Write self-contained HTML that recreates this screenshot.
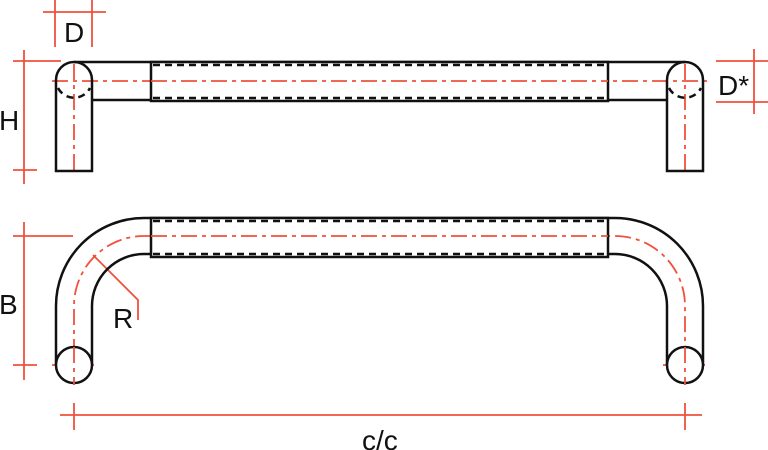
<!DOCTYPE html>
<html><head><style>body{margin:0;background:#fff}svg{display:block}text{font-family:"Liberation Sans",sans-serif;font-size:28px;fill:#111}</style></head><body>
<svg width="768" height="450" viewBox="0 0 768 450">
<g stroke="#f0503c" stroke-width="1.8" fill="none">
<line x1="55" y1="0" x2="55" y2="47"/><line x1="92" y1="0" x2="92" y2="47"/><line x1="43" y1="12" x2="106" y2="12"/>
<line x1="24" y1="50" x2="24" y2="184"/><line x1="13" y1="61" x2="61" y2="61"/><line x1="13" y1="170" x2="37" y2="170"/>
<line x1="716" y1="61" x2="768" y2="61"/><line x1="716" y1="102" x2="768" y2="102"/><line x1="754" y1="49" x2="754" y2="114"/>
<line x1="24" y1="222" x2="24" y2="380"/><line x1="13" y1="236" x2="73" y2="236"/><line x1="13" y1="365" x2="37" y2="365"/>
<polyline points="93,255 138,300 138,320"/>
<line x1="60" y1="415" x2="702" y2="415"/><line x1="74" y1="403" x2="74" y2="430"/><line x1="685" y1="403" x2="685" y2="430"/>
</g>
<g stroke="#f0503c" stroke-width="1.8" fill="none" stroke-dasharray="16,5,4,5">
<line x1="52" y1="81" x2="708" y2="81"/>
<line x1="74" y1="64" x2="74" y2="172"/><line x1="685" y1="64" x2="685" y2="172"/>
<path d="M74 385 V306 A70 70 0 0 1 144 236 H615 A70 70 0 0 1 685 306 V385"/>
</g>
<g stroke="#f0503c" stroke-width="1.8" stroke-dasharray="6,3">
<line x1="52" y1="365" x2="96" y2="365"/><line x1="663" y1="365" x2="707" y2="365"/>
</g>
<g stroke="#111" stroke-width="2.5" fill="none">
<path d="M56 171 V80 A18 18 0 0 1 92 80 V171 Z"/>
<path d="M667 171 V80 A18 18 0 0 1 703 80 V171 Z"/>
<line x1="74" y1="62" x2="685" y2="62"/>
<line x1="92" y1="100" x2="667" y2="100"/>
<rect x="151" y="62" width="457" height="39" fill="#fff"/>
<path d="M56 365 V306 A88 88 0 0 1 144 218 H615 A88 88 0 0 1 703 306 V365"/>
<path d="M92 365 V306 A52 52 0 0 1 144 254 H615 A52 52 0 0 1 667 306 V365"/>
<rect x="151" y="218" width="457" height="39" fill="#fff"/>
<circle cx="74" cy="365" r="18" fill="#fff"/>
<circle cx="685" cy="365" r="18" fill="#fff"/>
</g>
<g stroke="#111" stroke-width="2.5" fill="none" stroke-dasharray="7,5">
<line x1="153" y1="65" x2="606" y2="65"/><line x1="153" y1="98" x2="606" y2="98"/>
<line x1="153" y1="221" x2="606" y2="221"/><line x1="153" y1="254" x2="606" y2="254"/>
<path d="M58 88 A18 18 0 0 0 90 88"/><path d="M669 88 A18 18 0 0 0 701 88"/>
</g>
<g stroke="#f0503c" stroke-width="1.8" stroke-dasharray="16,5,4,5">
<line x1="151" y1="81" x2="608" y2="81"/><line x1="151" y1="236" x2="608" y2="236"/>
<line x1="74" y1="347" x2="74" y2="385"/><line x1="685" y1="347" x2="685" y2="385"/>
</g>
<text x="64" y="42">D</text>
<text x="-1" y="130">H</text>
<text x="718" y="95">D*</text>
<text x="-1" y="314">B</text>
<text x="113" y="328">R</text>
<text x="362" y="450">c/c</text>
</svg>
</body></html>
